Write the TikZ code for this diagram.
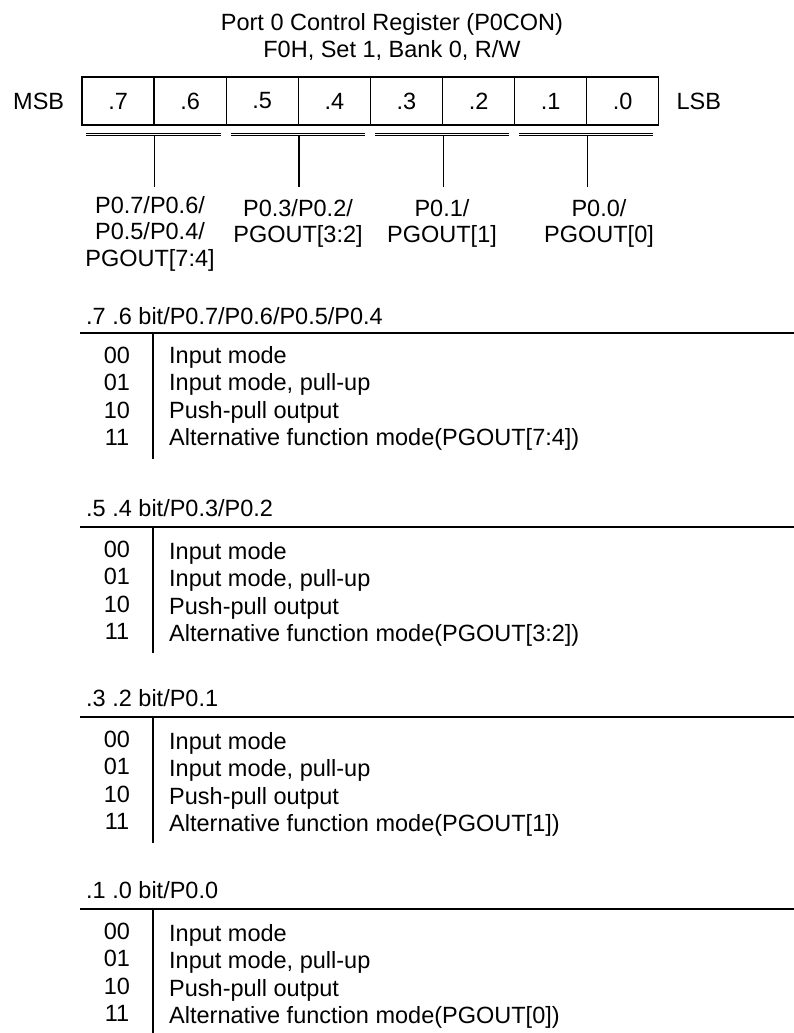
\documentclass[tikz,border=0pt]{standalone}
\usepackage{fontspec}
\setmainfont{Liberation Sans}
\usetikzlibrary{positioning,calc}

\begin{document}
\begin{tikzpicture}[x=1bp,y=-1bp,
  txt/.style={font=\fontsize{23.5bp}{26.5bp}\selectfont,inner sep=0pt},
  cell/.style={txt,draw,line width=1.3bp,minimum width=72.1bp,minimum height=48bp},
  bar/.style={line width=0.9bp,double,double distance=1.3bp},
  rule/.style={line width=2bp},
  vrule/.style={line width=1.3bp},
  lab/.style={txt,align=center,anchor=north}]
  \useasboundingbox (0,0) rectangle (794,1033);
  % title
  \node[txt,anchor=base] (title) at (392,30.4) {Port 0 Control Register (P0CON)};
  \node[txt,anchor=base] (addr) at (392,57.4) {F0H, Set 1, Bank 0, R/W};
  % register
  \foreach \b [count=\i from 0] in {7,6,5,4,3,2,1,0}
    \node[cell] (c\b) at ({118.05+72.1*\i},101) {.\b};
  \node[txt,left=17bp of c7] (msb) {MSB};
  \node[txt,right=17bp of c0] (lsb) {LSB};
  \draw[bar] ($(c7.south west)+(5,9)$) -- ($(c6.south east)+(-6,9)$);
  \draw[bar] ($(c5.south west)+(5,9)$) -- ($(c4.south east)+(-6,9)$);
  \draw[bar] ($(c3.south west)+(5,9)$) -- ($(c2.south east)+(-6,9)$);
  \draw[bar] ($(c1.south west)+(5,9)$) -- ($(c0.south east)+(-6,9)$);
  \foreach \b in {7,5,3,1}
    \draw[vrule] ($(c\b.south east)+(0,9)$) -- ++(0,52);
  \node[lab] (p76) at (150,196) {P0.7/P0.6/\\P0.5/P0.4/\\PGOUT[7:4]};
  \node[lab] (p54) at (298,199) {P0.3/P0.2/\\PGOUT[3:2]};
  \node[lab] (p32) at (442,199) {P0.1/\\PGOUT[1]};
  \node[lab] (p10) at (599,199) {P0.0/\\PGOUT[0]};
  % bit field tables
  \node[txt,anchor=base west] (h76) at (86,324.4) {.7 .6 bit/P0.7/P0.6/P0.5/P0.4};
  \node[txt,anchor=base west] (h54) at (86,516.4) {.5 .4 bit/P0.3/P0.2};
  \node[txt,anchor=base west] (h32) at (86,706.4) {.3 .2 bit/P0.1};
  \node[txt,anchor=base west] (h10) at (86,898.4) {.1 .0 bit/P0.0};
  \foreach \yl/\alt/\dy in {333/{7:4}/0,527/{3:2}/2,717/1/2,909/0/2} {
    \draw[rule] (80,\yl) -- (794,\yl);
    \draw[vrule] (153,\yl) -- (153,\yl+126);
    \foreach \c/\t [count=\k from 0] in {00/Input mode,01/{Input mode, pull-up},10/Push-pull output,11/{Alternative function mode(PGOUT[\alt])}} {
      \node[txt,anchor=base] (code\yl\c) at (117,\yl+30.4+27.3*\k) {\c};
      \node[txt,anchor=base west] (mode\yl\c) at (169,\yl+30.4+\dy+27.3*\k) {\t};
    }
  }
\end{tikzpicture}
\end{document}
